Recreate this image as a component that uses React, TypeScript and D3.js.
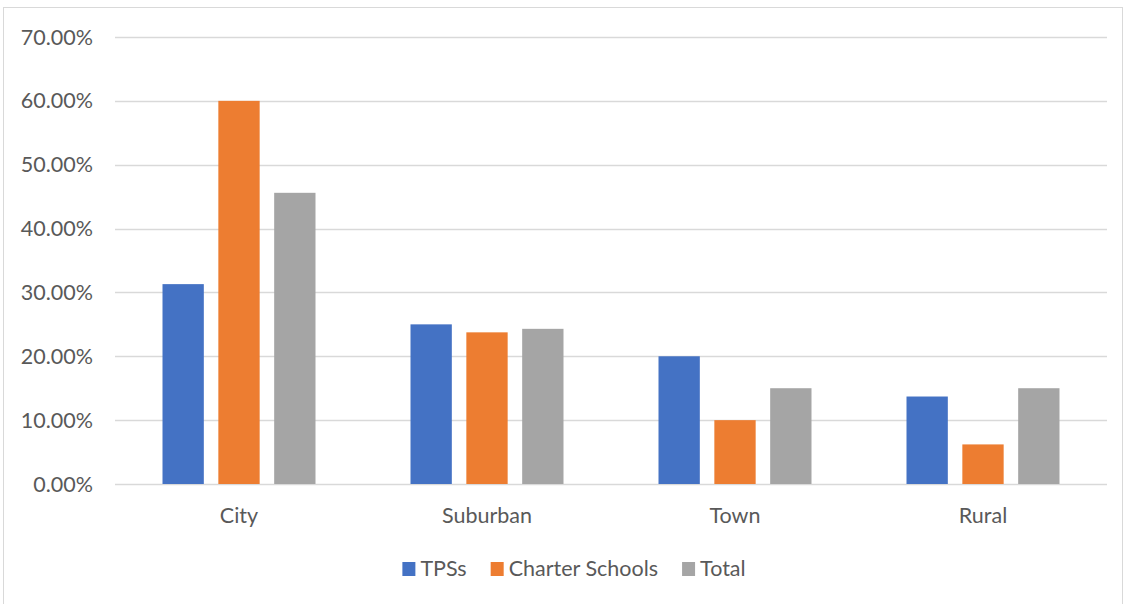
import React, { useEffect, useRef } from "react";
import * as d3 from "d3";

const categories = ["City", "Suburban", "Town", "Rural"];
const seriesNames = ["TPSs", "Charter Schools", "Total"];
const tpss = [0.313, 0.25, 0.2, 0.137];
const charter = [0.6, 0.2375, 0.1, 0.062];
const total = [0.456, 0.243, 0.15, 0.15];
const yTicks = [0, 0.1, 0.2, 0.3, 0.4, 0.5, 0.6, 0.7];
const colors = ["#4472C4", "#ED7D31", "#A5A5A5"];

const W = 1127;
const H = 604;
const FONT = "Lato, 'Open Sans', sans-serif";
const FS = 21.5;

export default function App() {
  const ref = useRef<SVGSVGElement>(null);

  useEffect(() => {
    const svg = d3.select(ref.current);
    svg.selectAll("*").remove();

    const left = 115, right = 1107, top = 37, bottom = 484;
    const x = d3.scaleBand().domain(categories).range([left, right]);
    const x1 = d3.scaleBand().domain(seriesNames).range([0, 153]).paddingInner(0.26);
    const y = d3.scaleLinear().domain([0, 0.7]).range([bottom, top]);

    // chart frame
    svg.append("rect")
      .attr("x", 3.5).attr("y", 7.5).attr("width", 1119).attr("height", 610)
      .attr("fill", "#fff").attr("stroke", "#D9D9D9").attr("stroke-width", 1);

    // gridlines
    svg.append("g").selectAll("line").data(yTicks).join("line")
      .attr("x1", left).attr("x2", right)
      .attr("y1", d => Math.round(y(d)) + 0.5).attr("y2", d => Math.round(y(d)) + 0.5)
      .attr("stroke", "#D9D9D9").attr("stroke-width", 1.3);

    // y tick labels
    svg.append("g").selectAll("text").data(yTicks).join("text")
      .attr("x", 93).attr("y", d => y(d))
      .attr("dy", "0.35em").attr("text-anchor", "end")
      .attr("font-family", FONT).attr("font-size", FS).attr("fill", "#595959")
      .text(d => d3.format(".2%")(d));

    const series = [tpss, charter, total];
    const g = svg.append("g");
    series.forEach((vals, si) => {
      g.append("g").selectAll("rect").data(vals).join("rect")
        .attr("x", (d, i) => (x(categories[i]) as number) + (x.bandwidth() - 153) / 2 + (x1(seriesNames[si]) as number))
        .attr("width", x1.bandwidth())
        .attr("y", d => y(d))
        .attr("height", d => y(0) - y(d))
        .attr("fill", colors[si]);
    });

    // category labels
    svg.append("g").selectAll("text").data(categories).join("text")
      .attr("x", d => (x(d) as number) + x.bandwidth() / 2)
      .attr("y", 523)
      .attr("text-anchor", "middle")
      .attr("font-family", FONT).attr("font-size", FS).attr("fill", "#595959")
      .text(d => d);

    // legend, laid out from measured text widths and centred
    const lg = svg.append("g");
    let lx = 0;
    seriesNames.forEach((name, i) => {
      lg.append("rect").attr("x", lx).attr("y", 562).attr("width", 13).attr("height", 14).attr("fill", colors[i]);
      const t = lg.append("text").attr("x", lx + 18).attr("y", 576)
        .attr("font-family", FONT).attr("font-size", FS).attr("fill", "#595959")
        .text(name);
      const w = (t.node() as SVGTextElement).getComputedTextLength();
      lx += 18 + w + (i < seriesNames.length - 1 ? 24 : 0);
    });
    lg.attr("transform", `translate(${574 - lx / 2},0)`);
  }, []);

  return (
    <svg ref={ref} width={W} height={H} style={{ position: "absolute", left: 0, top: 0 }} />
  );
}
